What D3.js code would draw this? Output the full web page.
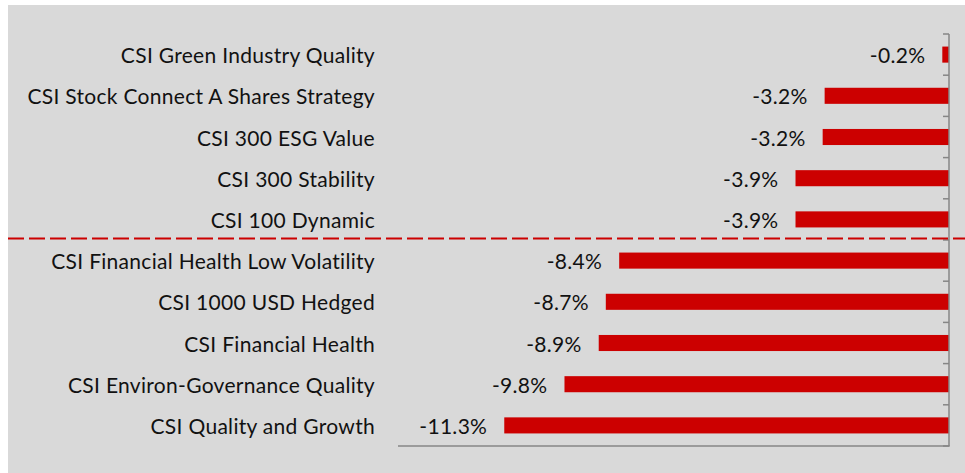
<!DOCTYPE html>
<html><head><meta charset="utf-8">
<script src="https://cdn.jsdelivr.net/npm/d3@7"></script>
<style>html,body{margin:0;padding:0;background:#fff;}svg{display:block;}</style>
</head><body>
<svg id="chart" width="965" height="473"></svg>
<script>
const categories = [
  "CSI Green Industry Quality",
  "CSI Stock Connect A Shares Strategy",
  "CSI 300 ESG Value",
  "CSI 300 Stability",
  "CSI 100 Dynamic",
  "CSI Financial Health Low Volatility",
  "CSI 1000 USD Hedged",
  "CSI Financial Health",
  "CSI Environ-Governance Quality",
  "CSI Quality and Growth"
];
const values = [-0.17, -3.16, -3.21, -3.9, -3.9, -8.38, -8.72, -8.9, -9.77, -11.3];
const xDomain = [-14, 0];
const dividerAfter = 5;

const svg = d3.select("#chart");
const W = 965, H = 473;
const plot = {left: 398, right: 949, top: 34, bottom: 446};
const font = "Lato, 'Open Sans', sans-serif";

svg.append("rect").attr("x", 8).attr("y", 5).attr("width", W - 8).attr("height", H - 5).attr("fill", "#d9d9d9");

const x = d3.scaleLinear().domain(xDomain).range([plot.left, plot.right]);
const y = d3.scaleBand().domain(categories).range([plot.top, plot.bottom]).paddingInner(0.61).paddingOuter(0.305);
const yb = d3.scaleBand().domain(categories).range([plot.top, plot.bottom]);

// bars
svg.append("g").selectAll("rect").data(values).join("rect")
  .attr("x", d => x(d)).attr("width", d => x(0) - x(d))
  .attr("y", (d, i) => y(categories[i])).attr("height", y.bandwidth())
  .attr("fill", "#cc0000");

// axes
svg.append("line").attr("x1", plot.left).attr("x2", plot.right + 0.75).attr("y1", plot.bottom).attr("y2", plot.bottom)
  .attr("stroke", "#868686").attr("stroke-width", 1.5);
svg.append("line").attr("x1", plot.right).attr("x2", plot.right).attr("y1", plot.top).attr("y2", plot.bottom)
  .attr("stroke", "#868686").attr("stroke-width", 1.5);
const tickYs = categories.map(c => yb(c)).concat([plot.bottom]);
svg.append("g").selectAll("line").data(tickYs).join("line")
  .attr("x1", plot.right - 6).attr("x2", plot.right).attr("y1", d => d).attr("y2", d => d)
  .attr("stroke", "#868686").attr("stroke-width", 1.5);

// category labels
svg.append("g").selectAll("text").data(categories).join("text")
  .attr("x", 375).attr("y", c => yb(c) + yb.bandwidth() / 2)
  .attr("text-anchor", "end").attr("dominant-baseline", "central")
  .attr("font-family", font).attr("font-size", 21).attr("letter-spacing", 0.3).attr("fill", "#111")
  .text(c => c);

// value labels
const fmt = d => d.toFixed(1) + "%";
svg.append("g").selectAll("text").data(values).join("text")
  .attr("x", d => x(d) - 17).attr("y", (d, i) => yb(categories[i]) + yb.bandwidth() / 2)
  .attr("text-anchor", "end").attr("dominant-baseline", "central")
  .attr("font-family", font).attr("font-size", 21).attr("letter-spacing", 0.3).attr("fill", "#111")
  .text(fmt);

// divider
const dy = yb(categories[dividerAfter]) - 1.5;
svg.append("line").attr("x1", 8).attr("x2", W).attr("y1", dy).attr("y2", dy)
  .attr("stroke", "#cc0000").attr("stroke-width", 2).attr("stroke-dasharray", "16,5");
</script>
</body></html>
